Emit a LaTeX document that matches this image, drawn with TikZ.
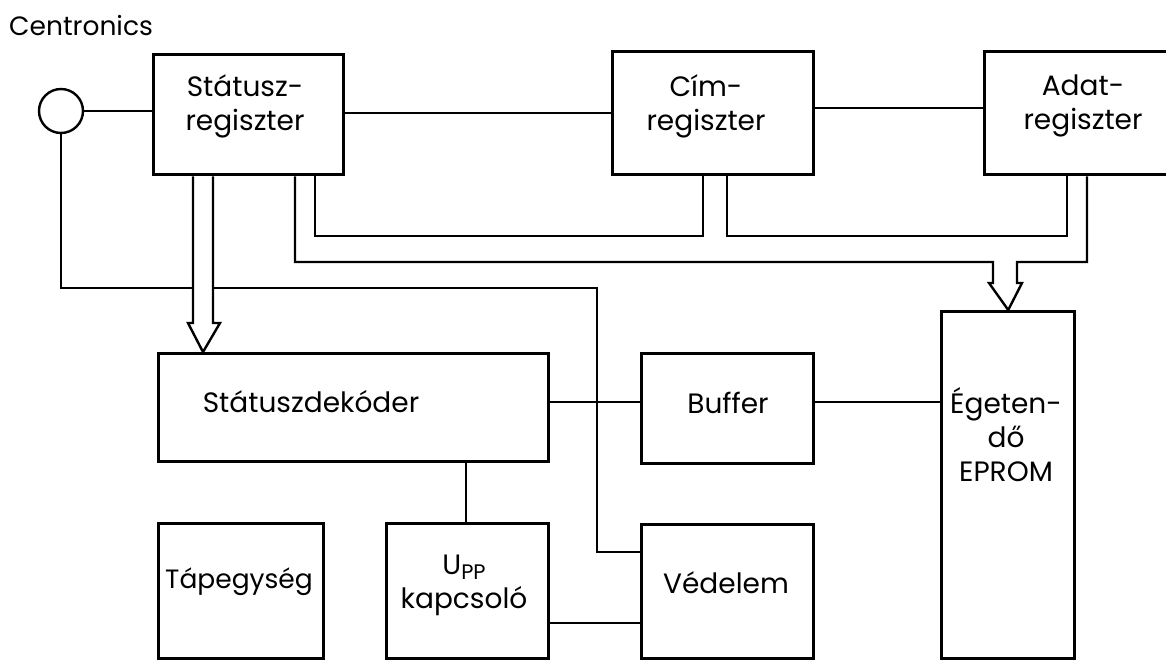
\documentclass[tikz,border=0pt]{standalone}
\usepackage{fontspec}
\setmainfont{Poppins}
\begin{document}
\begin{tikzpicture}[x=1pt,y=-1pt,
  box/.style={draw=black, line width=3.4pt, rectangle, anchor=north west, inner sep=0pt},
  wire/.style={draw=black, line width=2.4pt, line join=miter},
  hollow/.style={wire, fill=white},
  lbl/.style={font=\fontsize{28}{34}\selectfont, align=center, inner sep=0pt, text=black},
  port/.style={draw=black, line width=2.4pt, circle, minimum size=44pt, inner sep=0pt, fill=white}]
\useasboundingbox (0,0) rectangle (1166,660);
\fill[white] (0,0) rectangle (1166,660);

% boxes
\node[box, minimum width=190pt, minimum height=120pt] (sreg) at (152,53) {};
\node[box, minimum width=201pt, minimum height=123pt] (creg) at (611,50) {};
\node[box, minimum width=201pt, minimum height=123pt] (areg) at (983,50) {};
\node[box, minimum width=390pt, minimum height=108pt] (sdek) at (157,352) {};
\node[box, minimum width=172pt, minimum height=110pt] (buf) at (640,352) {};
\node[box, minimum width=133pt, minimum height=347pt] (eprom) at (940,310) {};
\node[box, minimum width=172pt, minimum height=134pt] (ved) at (640,523) {};
\node[box, minimum width=162pt, minimum height=135pt] (upp) at (385,522) {};
\node[box, minimum width=165pt, minimum height=135pt] (tap) at (157,522) {};
\node[port] (cen) at (61,111) {};

% labels
\node[lbl, anchor=base west, font=\fontsize{26.5}{30}\selectfont] (centl) at (9,36) {Centronics};
\node[lbl] (sregt) at (245,106) {Státusz-\\regiszter};
\node[lbl] (cregt) at (706,106) {Cím-\\regiszter};
\node[lbl] (aregt) at (1083,106) {Adat-\\regiszter};
\node[lbl] (sdekt) at (311,402) {Státuszdekóder};
\node[lbl] (buft) at (728,403) {Buffer};
\node[lbl] (epromt) at (1006,435) {Égeten-\\dő\\EPROM};
\node[lbl] (vedt) at (726,583) {Védelem};
\node[lbl] (uppt) at (464,585) {U\raisebox{-0.35ex}{\fontsize{21}{24}\selectfont PP}\\kapcsoló};
\node[lbl, font=\fontsize{26.5}{32}\selectfont] (tapt) at (239,582) {Tápegység};

% helper coordinates
\coordinate (xa) at (193,0);
\coordinate (xb) at (213,0);
\coordinate (xc) at (295,0);
\coordinate (xd) at (315,0);
\coordinate (xe) at (727,0);
\coordinate (xf) at (703,0);
\coordinate (xg) at (1067,0);
\coordinate (xh) at (1087,0);
\coordinate (xk) at (466,0);
\coordinate (yb) at (0,402);
\coordinate (yv) at (0,623);

% connectors
\draw[wire] (cen.east) -- (cen.east -| sreg.west);
\draw[wire] (sreg.east |- creg.west) -- (creg.west);
\draw[wire] (creg.east |- 0,108) -- (areg.west |- 0,108);
\draw[wire] (cen.south) -- (61,288) -- (597,288) -- (597,552) -- (ved.west |- 0,552);
\draw[wire] (sreg.south -| xd) -- (315,236) -- (703,236) -- (creg.south -| xf);
\draw[wire] (creg.south -| xe) -- (727,236) -- (1067,236) -- (areg.south -| xg);
\draw[wire] (sreg.south -| xc) -- (295,262) -- (993,262) -- (993,283) -- (989,283)
  -- (eprom.north) -- (1022,283) -- (1017,283) -- (1017,262) -- (1087,262) -- (areg.south -| xh);
\draw[wire] (sdek.east |- yb) -- (buf.west |- yb);
\draw[wire] (buf.east |- yb) -- (eprom.west |- yb);
\draw[wire] (sdek.south -| xk) -- (upp.north -| xk);
\draw[wire] (upp.east |- yv) -- (ved.west |- yv);
\draw[hollow] (sreg.south -| xa) -- (193,323) -- (188,323) -- (sdek.north -| 203,0)
  -- (220,323) -- (213,323) -- (sreg.south -| xb);
\end{tikzpicture}
\end{document}
